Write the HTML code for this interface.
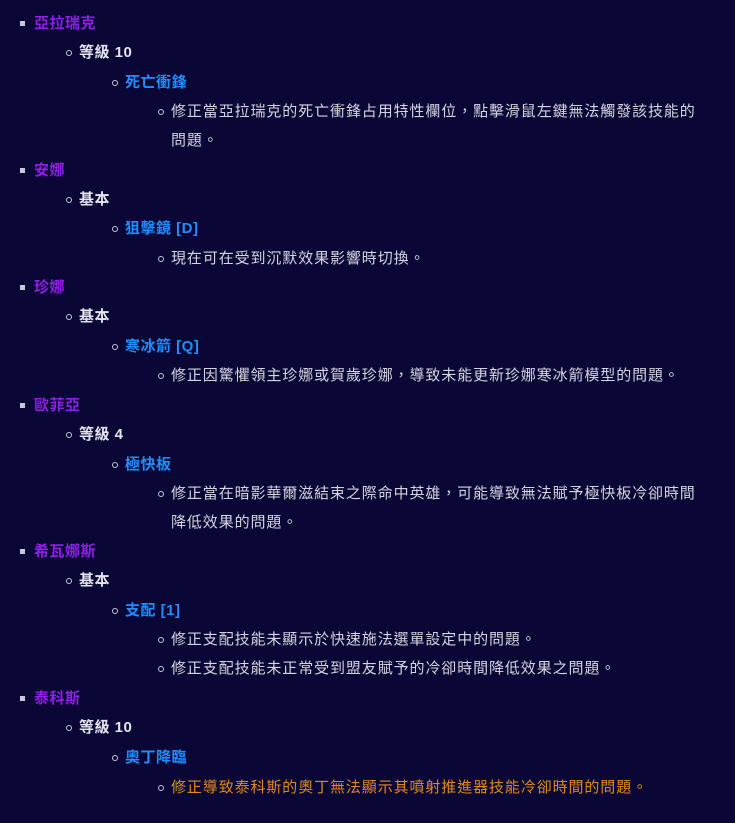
<!DOCTYPE html>
<html><head><meta charset="utf-8"><style>
html,body{margin:0;padding:0;background:#0a0736;width:735px;height:823px;overflow:hidden}
body{position:relative;font-family:"Liberation Sans","Noto Sans CJK TC",sans-serif;font-size:15px}
.r{position:absolute;height:30px;line-height:30px;white-space:nowrap;margin-top:1px}
.r::before{content:"";position:absolute;top:12px}
.l1{left:34px;color:#8f1fe6;font-weight:bold;letter-spacing:0.5px}
.l1::before{left:-14px;width:5px;height:5px;background:#c8c8d8;top:12px}
.l2{left:79px;color:#e4e4ee;font-weight:bold;letter-spacing:0.5px}
.l3{left:125px;color:#1e8fff;font-weight:bold;letter-spacing:0.5px}
.l4{left:171px;color:#d4d4e0;letter-spacing:0.9px}
.l2::before,.l3::before,.l4::before{left:-13px;width:4px;height:4px;border:1px solid #c8c8d8;border-radius:50%;top:12px}
.c{left:171px;color:#d4d4e0;letter-spacing:0.9px}
.o{color:#e08a1a}
</style></head><body>
<div class="r l1" style="top:8px">亞拉瑞克</div>
<div class="r l2" style="top:37px">等級 10</div>
<div class="r l3" style="top:67px">死亡衝鋒</div>
<div class="r l4" style="top:96px">修正當亞拉瑞克的死亡衝鋒占用特性欄位，點擊滑鼠左鍵無法觸發該技能的</div>
<div class="r c" style="top:125px">問題。</div>
<div class="r l1" style="top:155px">安娜</div>
<div class="r l2" style="top:184px">基本</div>
<div class="r l3" style="top:213px">狙擊鏡 [D]</div>
<div class="r l4" style="top:243px">現在可在受到沉默效果影響時切換。</div>
<div class="r l1" style="top:272px">珍娜</div>
<div class="r l2" style="top:301px">基本</div>
<div class="r l3" style="top:331px">寒冰箭 [Q]</div>
<div class="r l4" style="top:360px">修正因驚懼領主珍娜或賀歲珍娜，導致未能更新珍娜寒冰箭模型的問題。</div>
<div class="r l1" style="top:390px">歐菲亞</div>
<div class="r l2" style="top:419px">等級 4</div>
<div class="r l3" style="top:449px">極快板</div>
<div class="r l4" style="top:478px">修正當在暗影華爾滋結束之際命中英雄，可能導致無法賦予極快板冷卻時間</div>
<div class="r c" style="top:507px">降低效果的問題。</div>
<div class="r l1" style="top:536px">希瓦娜斯</div>
<div class="r l2" style="top:565px">基本</div>
<div class="r l3" style="top:595px">支配 [1]</div>
<div class="r l4" style="top:624px">修正支配技能未顯示於快速施法選單設定中的問題。</div>
<div class="r l4" style="top:653px">修正支配技能未正常受到盟友賦予的冷卻時間降低效果之問題。</div>
<div class="r l1" style="top:683px">泰科斯</div>
<div class="r l2" style="top:712px">等級 10</div>
<div class="r l3" style="top:742px">奧丁降臨</div>
<div class="r l4 o" style="top:772px">修正導致泰科斯的奧丁無法顯示其噴射推進器技能冷卻時間的問題。</div>
</body></html>
